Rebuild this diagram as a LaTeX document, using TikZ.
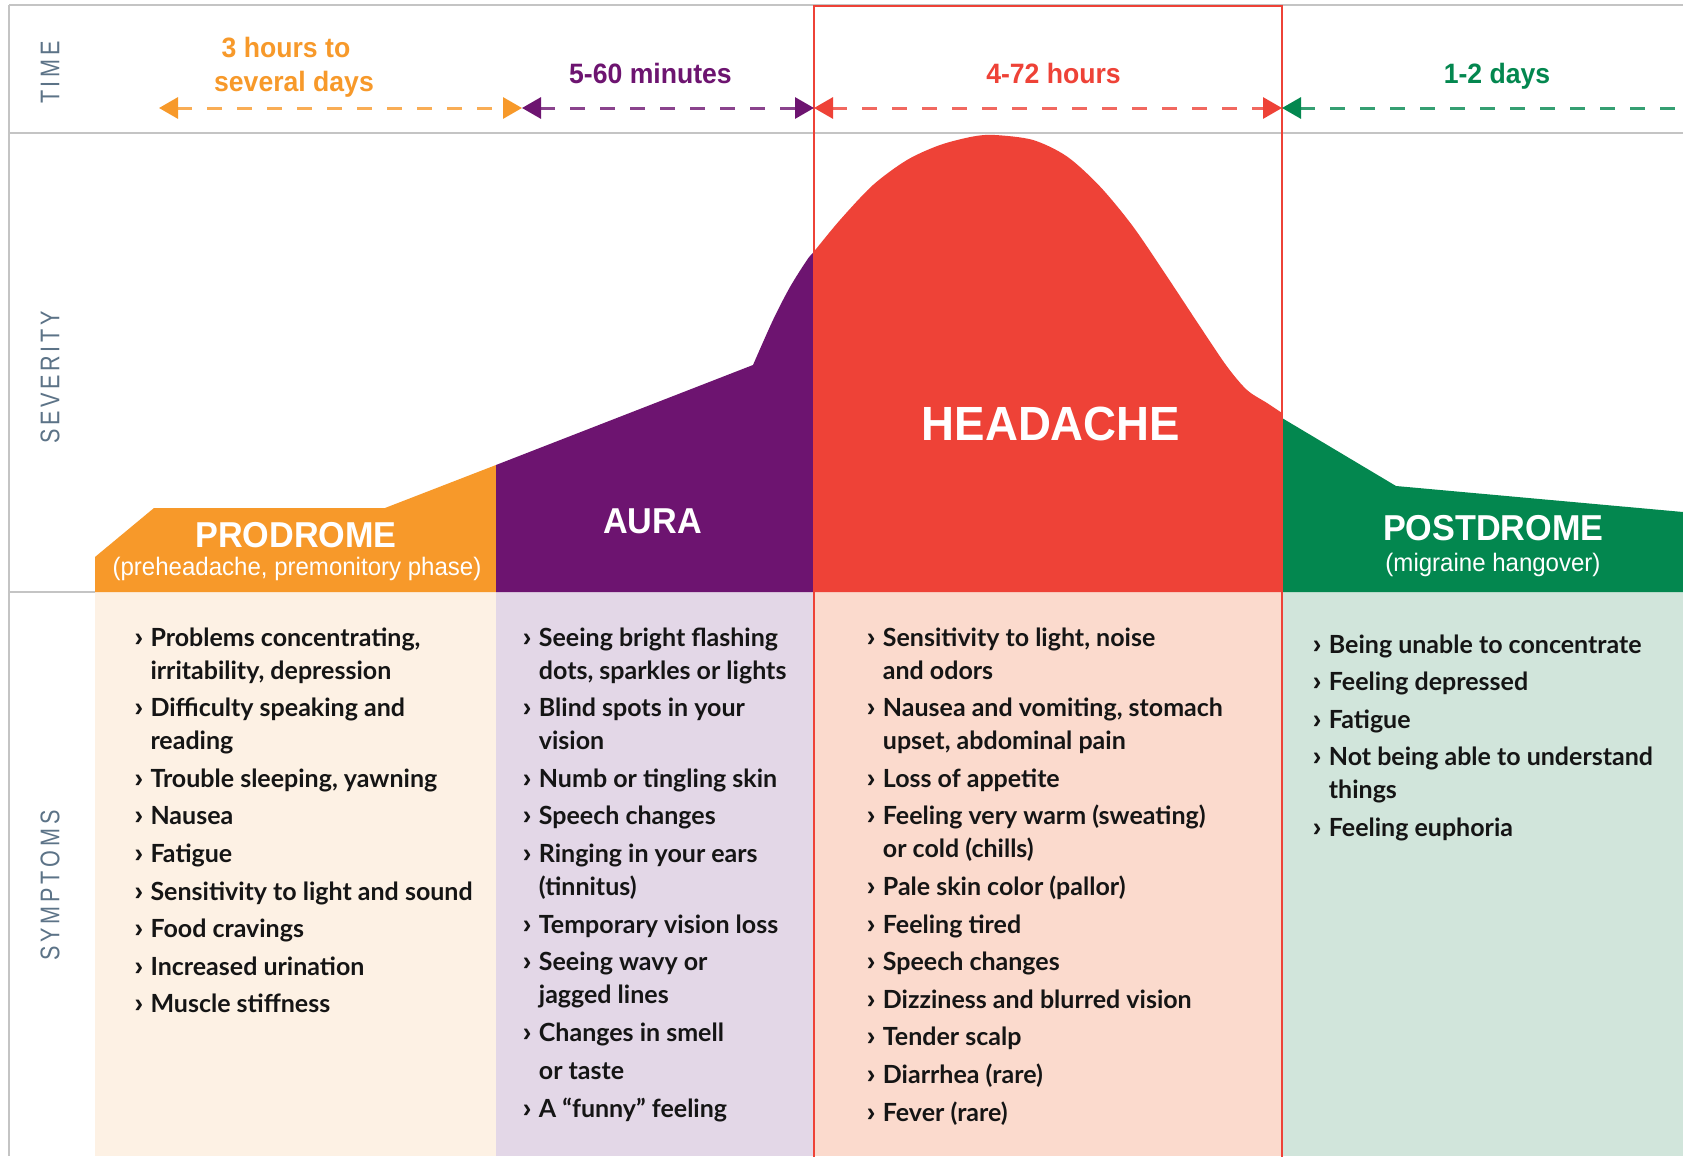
\documentclass[tikz,border=0pt]{standalone}
\usepackage{fontspec}
\setmainfont{Lato}
\newfontfamily\cnd{Liberation Sans}[FakeStretch=0.95]
\newfontfamily\axf{Liberation Sans}[FakeStretch=0.8]
\usetikzlibrary{arrows.meta}
\definecolor{cOr}{HTML}{F7992A}
\definecolor{cPu}{HTML}{6D1470}
\definecolor{cRe}{HTML}{EE4237}
\definecolor{cGr}{HTML}{03874F}
\definecolor{lOr}{HTML}{FDF1E4}
\definecolor{lPu}{HTML}{E3D7E7}
\definecolor{lRe}{HTML}{FBDACD}
\definecolor{lGr}{HTML}{D1E5DB}
\definecolor{axg}{HTML}{5C7387}
\definecolor{frameg}{HTML}{C4C4C4}
\definecolor{symtxt}{HTML}{151515}
\newcommand\bul{\makebox[16pt][l]{\cnd\bfseries\fontsize{27}{33}\selectfont ›}}
\newlength\itgap \setlength\itgap{4.6pt}
\begin{document}
\begin{tikzpicture}[x=1pt,y=-1pt,
  phase/.style={font=\cnd\bfseries\fontsize{36}{36}\selectfont,text=white,inner sep=0pt,anchor=base},
  phasesub/.style={font=\cnd\fontsize{25.3}{25.3}\selectfont,text=white,inner sep=0pt,anchor=base},
  timelab/.style={font=\cnd\bfseries\fontsize{28}{34}\selectfont,inner sep=0pt,anchor=base},
  axislab/.style={font=\axf\fontsize{27}{27}\selectfont,text=axg,rotate=90,inner sep=0pt},
  symlist/.style={font=\fontsize{25}{33}\selectfont\bfseries,text=symtxt,anchor=base west,inner sep=0pt},
  frameline/.style={draw=frameg,line width=2pt},
  tspan/.style={line width=3pt,dash pattern=on 15pt off 15pt,draw=#1!80,
    {Triangle[length=19pt,width=21pt,color=#1]}-{Triangle[length=19pt,width=21pt,color=#1]}},
  ]
\fill[white] (0,0) rectangle (1683,1156);
\useasboundingbox (0,0) rectangle (1683,1156);

% symptom backgrounds
\fill[lOr] (95,591.5) rectangle (496,1156);
\fill[lPu] (496,591.5) rectangle (814,1156);
\fill[lRe] (814,591.5) rectangle (1282,1156);
\fill[lGr] (1282,591.5) rectangle (1683,1156);

% severity shapes
\fill[cOr] (95,592) -- (95,557) -- (154,508) -- (385,508) -- (496,465) -- (496,592) -- cycle;
\begin{scope}
\clip (496,0) rectangle (814,600);
\fill[cPu] (496,592) -- (496,465) -- plot[smooth,tension=0.5] coordinates {(753,365) (773,320) (790,287) (807,260) (814,251.5) (840,220) (873,185) (907,160) (940,145) (973,136.5) (995,135) (1033,140) (1067,156.5) (1100,186.5) (1133,226.5) (1167,276.5) (1200,326.5) (1227,366.5) (1247,390) (1267,403) (1282,413)} -- (1282,592) -- cycle;
\end{scope}
\begin{scope}
\clip (814,0) rectangle (1282,600);
\fill[cRe] (496,592) -- (496,465) -- plot[smooth,tension=0.5] coordinates {(753,365) (773,320) (790,287) (807,260) (814,251.5) (840,220) (873,185) (907,160) (940,145) (973,136.5) (995,135) (1033,140) (1067,156.5) (1100,186.5) (1133,226.5) (1167,276.5) (1200,326.5) (1227,366.5) (1247,390) (1267,403) (1282,413)} -- (1282,592) -- cycle;
\end{scope}
\fill[cGr] (1282,592) -- (1282,418) -- (1396,486) -- (1683,512) -- (1683,592) -- cycle;

% frame lines
\draw[frameline] (9,5) -- (1683,5);
\draw[frameline] (9,5) -- (9,1156);
\draw[frameline] (9,133.3) -- (1683,133.3);
\draw[frameline] (9,591.5) -- (95,591.5);

% headache frame
\draw[cRe,line width=2pt] (814,6) rectangle (1282,1170);

% time spans
\coordinate (t0) at (159,108);
\coordinate (t1) at (522,108);
\coordinate (t2) at (814,108);
\coordinate (t3) at (1282,108);
\coordinate (t4) at (1702,108);
\draw[tspan=cOr] (t0) -- (t1);
\draw[tspan=cPu] (t1) -- (t2);
\draw[tspan=cRe] (t2) -- (t3);
\draw[tspan=cGr] (t3) -- (t4);

\node[timelab,text=cOr] (tl1a) at (286,58) {3 hours to};
\node[timelab,text=cOr] (tl1b) at (294,92) {several days};
\node[timelab,text=cPu] (tl2) at (650.5,83) {5-60 minutes};
\node[timelab,text=cRe] (tl3) at (1053.5,83) {4-72 hours};
\node[timelab,text=cGr] (tl4) at (1497,83) {1-2 days};

% axis labels
\node[axislab] (axTime) at (50,72.5) {T\kern3.8pt I\kern3.8pt M\kern3.8pt E};
\node[axislab] (axSev) at (50,377.5) {S\kern3.6pt E\kern3.6pt V\kern3.6pt E\kern3.6pt R\kern3.6pt I\kern3.6pt T\kern3.6pt Y};
\node[axislab] (axSym) at (50,885.5) {S\kern3.8pt Y\kern3.8pt M\kern3.8pt P\kern3.8pt T\kern3.8pt O\kern3.8pt M\kern3.8pt S};

% phase labels
\node[phase] (lPro) at (296,547.3) {PRODROME};
\node[phasesub] (lProSub) at (297,575) {(preheadache, premonitory phase)};
\node[phase] (lAura) at (652.5,533) {AURA};
\node[phase,font=\cnd\bfseries\fontsize{48}{48}\selectfont] (lHead) at (1051,440.7) {HEADACHE};
\node[phase] (lPost) at (1493.3,540.7) {POSTDROME};
\node[phasesub] (lPostSub) at (1493,571.5) {(migraine hangover)};

% symptom lists
\node[symlist] (symPro) at (134.3,646) {\begin{tabular}[t]{@{}l@{}l@{}}
\bul & Problems concentrating,\\
 & irritability, depression\\[\itgap]
\bul & Difficulty speaking and\\
 & reading\\[\itgap]
\bul & Trouble sleeping, yawning\\[\itgap]
\bul & Nausea\\[\itgap]
\bul & Fatigue\\[\itgap]
\bul & Sensitivity to light and sound\\[\itgap]
\bul & Food cravings\\[\itgap]
\bul & Increased urination\\[\itgap]
\bul & Muscle stiffness
\end{tabular}};

\node[symlist] (symAura) at (522.7,646) {\begin{tabular}[t]{@{}l@{}l@{}}
\bul & Seeing bright flashing\\
 & dots, sparkles or lights\\[\itgap]
\bul & Blind spots in your\\
 & vision\\[\itgap]
\bul & Numb or tingling skin\\[\itgap]
\bul & Speech changes\\[\itgap]
\bul & Ringing in your ears\\
 & (tinnitus)\\[\itgap]
\bul & Temporary vision loss\\[\itgap]
\bul & Seeing wavy or\\
 & jagged lines\\[\itgap]
\bul & Changes in smell\\[5.4pt]
 & or taste\\[\itgap]
\bul & A “funny” feeling
\end{tabular}};

\node[symlist] (symHead) at (866.7,646) {\begin{tabular}[t]{@{}l@{}l@{}}
\bul & Sensitivity to light, noise\\
 & and odors\\[\itgap]
\bul & Nausea and vomiting, stomach\\
 & upset, abdominal pain\\[\itgap]
\bul & Loss of appetite\\[\itgap]
\bul & Feeling very warm (sweating)\\
 & or cold (chills)\\[\itgap]
\bul & Pale skin color (pallor)\\[\itgap]
\bul & Feeling tired\\[\itgap]
\bul & Speech changes\\[\itgap]
\bul & Dizziness and blurred vision\\[\itgap]
\bul & Tender scalp\\[\itgap]
\bul & Diarrhea (rare)\\[\itgap]
\bul & Fever (rare)
\end{tabular}};

\node[symlist] (symPost) at (1312.7,653) {\begin{tabular}[t]{@{}l@{}l@{}}
\bul & Being unable to concentrate\\[\itgap]
\bul & Feeling depressed\\[\itgap]
\bul & Fatigue\\[\itgap]
\bul & Not being able to understand\\
 & things\\[\itgap]
\bul & Feeling euphoria
\end{tabular}};
\end{tikzpicture}
\end{document}
